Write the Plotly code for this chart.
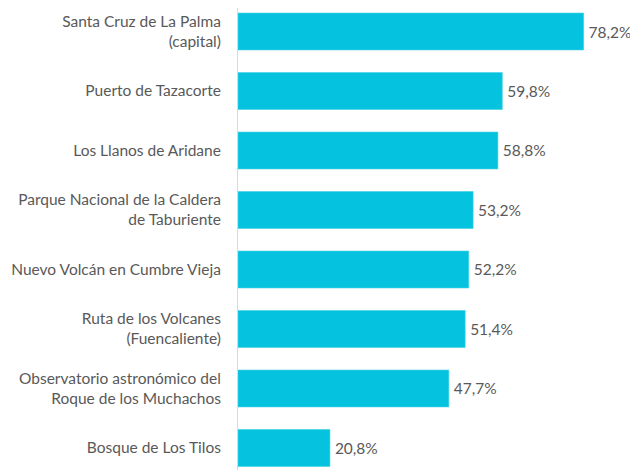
import plotly.graph_objects as go

categories = [
    "Santa Cruz de La Palma<br>(capital)",
    "Puerto de Tazacorte",
    "Los Llanos de Aridane",
    "Parque Nacional de la Caldera<br>de Taburiente",
    "Nuevo Volcán en Cumbre Vieja",
    "Ruta de los Volcanes<br>(Fuencaliente)",
    "Observatorio astronómico del<br>Roque de los Muchachos",
    "Bosque de Los Tilos",
]
values = [78.2, 59.8, 58.8, 53.2, 52.2, 51.4, 47.7, 20.8]
labels = ["\u2009" + f"{v:.1f}%".replace(".", ",") for v in values]

FONT = "Lato"
TXT = "#595959"
FS = 15.5

fig = go.Figure(go.Bar(
    x=values,
    y=categories,
    orientation="h",
    marker=dict(color="#05C3DE", line=dict(color="#3fd0e6", width=0.6)),
    text=labels,
    textposition="outside",
    textfont=dict(family=FONT, size=FS, color=TXT),
    cliponaxis=False,
    hoverinfo="skip",
))

fig.update_layout(
    width=630, height=462,
    margin=dict(l=230, r=0, t=0, b=0, autoexpand=False),
    plot_bgcolor="white", paper_bgcolor="white",
    bargap=0.38,
    showlegend=False,
    font=dict(family=FONT, size=FS, color=TXT),
)
fig.update_xaxes(range=[0, 90.5], visible=False, fixedrange=True)
fig.update_yaxes(
    type="category",
    range=[7.37, -0.395],
    showline=True, linecolor="#d9d9d9", linewidth=1,
    showgrid=False, ticks="",
    ticklabelstandoff=13,
    tickfont=dict(family=FONT, size=FS, color=TXT),
    fixedrange=True,
    automargin=False,
)

fig.write_html("out.html")
